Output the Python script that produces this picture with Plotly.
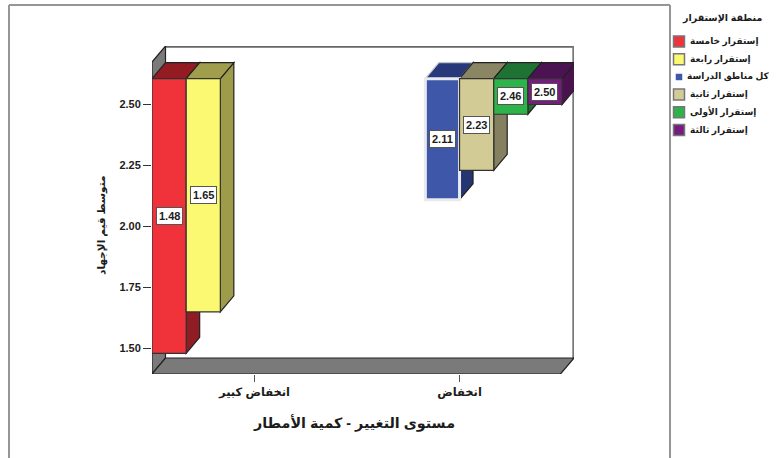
import plotly.graph_objects as go

# ---- data ----
categories = ["انخفاض كبير", "انخفاض"]
series_names = ["إستقرار خامسة", "إستقرار رابعة", "كل مناطق الدراسة",
                "إستقرار ثانية", "إستقرار الأولى", "إستقرار ثالثة"]
series_category = [0, 0, 1, 1, 1, 1]
series_slot = [0, 1, 2, 3, 4, 5]
mean_values = [1.48, 1.65, 2.11, 2.23, 2.46, 2.50]
y_ticks = [1.50, 1.75, 2.00, 2.25, 2.50]
front_colors = ["#F0333B", "#FBF871", "#3F57A8", "#D2CB95", "#2DB34A", "#751C7E"]
side_colors = ["#8F1D23", "#9E9B4A", "#243571", "#85805F", "#1C7030", "#4A124F"]
top_colors = ["#931C22", "#A09D4C", "#27397A", "#8A8562", "#1E7334", "#4C1352"]
edge_colors = ["#333333", "#333333", "#E8EAF0", "#333333", "#333333", "#333333"]
x_title = "مستوى التغيير - كمية الأمطار"
y_title = "متوسط قيم الإجهاد"
legend_title = "منطقة الإستقرار"

# ---- layout geometry ----
W, H = 777, 458
LEFT, RIGHT, TOP, BOTTOM = 152, 574, 46, 374
SLOT_PX = 34.17
PX_PER_UNIT = 244.0
Y_AT_150 = 348.5
BAR_BASE = 2.606
DX = 13.5 / SLOT_PX
DY = 16.0 / PX_PER_UNIT
SLOTS_PER_GROUP = 6

x_range = [0, (RIGHT - LEFT) / SLOT_PX]
y_range = [1.5 - (BOTTOM - Y_AT_150) / PX_PER_UNIT, 1.5 + (Y_AT_150 - TOP) / PX_PER_UNIT]
FONT = "Liberation Sans, DejaVu Sans, sans-serif"
TEXT = "#1c1c1c"


def px(xp):
    return (xp - LEFT) / (RIGHT - LEFT)


def py(yp):
    return 1 - (yp - TOP) / (BOTTOM - TOP)


def poly(points, fill, line="#222222", width=1.2):
    path = "M " + " L ".join(f"{a},{b}" for a, b in points) + " Z"
    return dict(type="path", path=path, xref="x", yref="y", layer="below",
                fillcolor=fill, line=dict(color=line, width=width))


def frame_line(xa, ya, xb, yb):
    return dict(type="line", xref="paper", yref="paper", x0=px(xa), x1=px(xb), y0=py(ya), y1=py(yb),
                line=dict(color="#969696", width=2), layer="below")


x0, x1 = x_range
y0, y1 = y_range
shapes = [
    # outer frame
    frame_line(9, H, 9, 5),
    frame_line(9, 5, 670, 5),
    frame_line(670, 5, 670, H),
    # back wall edges
    dict(type="line", xref="x", yref="y", x0=DX, x1=x1, y0=y1 - 0.003, y1=y1 - 0.003,
         line=dict(color="#666666", width=2), layer="below"),
    dict(type="line", xref="x", yref="y", x0=x1 - 0.02, x1=x1 - 0.02, y0=y0 + DY, y1=y1,
         line=dict(color="#777777", width=2), layer="below"),
    # left wall and floor
    poly([(0, y0), (DX, y0 + DY), (DX, y1), (0, y1 - DY)], "#7A7A7A"),
    poly([(0, y0), (DX, y0 + DY), (x1, y0 + DY), (x1 - DX, y0)], "#7A7A7A"),
]

annotations = []
fig = go.Figure()

for i, name in enumerate(series_names):
    v = mean_values[i]
    left = series_category[i] * SLOTS_PER_GROUP + series_slot[i]
    right = left + 1
    # side and top faces of the extruded bar
    shapes.append(poly([(right, BAR_BASE), (right + DX, BAR_BASE + DY),
                        (right + DX, v + DY), (right, v)], side_colors[i]))
    shapes.append(poly([(left, BAR_BASE), (right, BAR_BASE),
                        (right + DX, BAR_BASE + DY), (left + DX, BAR_BASE + DY)], top_colors[i],
                       line="#BFC3CC" if i == 2 else "#222222"))
    # front face
    fig.add_trace(go.Bar(
        x=[left + 0.5], y=[BAR_BASE - v], base=[v], width=[1], name=name, showlegend=False,
        marker=dict(color=front_colors[i],
                    line=dict(color=edge_colors[i], width=3 if i == 2 else 1.2)),
    ))
    annotations.append(dict(
        x=left + 0.5, y=(v + BAR_BASE) / 2, xref="x", yref="y", text=f"<b>{v:.2f}</b>",
        xanchor="center", yanchor="middle",
        showarrow=False, bgcolor="#FFFFFF", bordercolor="#555555", borderwidth=1, borderpad=2,
        font=dict(family=FONT, size=11, color=TEXT),
    ))

# legend
LEG_TOP, LEG_STEP = 41.5, 17.7
annotations.append(dict(
    x=px(722), y=py(18), xref="paper", yref="paper", text=f"<b>{legend_title}</b>", showarrow=False,
    xanchor="center", yanchor="middle",
    font=dict(family=FONT, size=9.5, color=TEXT),
))
for i, name in enumerate(series_names):
    yc = LEG_TOP + i * LEG_STEP
    half = 4 if i == 2 else 5.5
    shapes.append(dict(
        type="rect", xref="paper", yref="paper",
        x0=px(679 - half), x1=px(679 + half), y0=py(yc - half), y1=py(yc + half),
        fillcolor=front_colors[i], layer="below",
        line=dict(color="#FFFFFF" if i == 2 else "#777777", width=1.5),
    ))
    annotations.append(dict(
        x=px(688 if i != 2 else 685), y=py(yc), xref="paper", yref="paper",
        xanchor="left", yanchor="middle",
        text=f"<b>{name}</b>", showarrow=False,
        font=dict(family=FONT, size=9, color=TEXT),
    ))

# axis titles
annotations.append(dict(
    x=px(354), y=py(423), xref="paper", yref="paper", text=f"<b>{x_title}</b>", showarrow=False,
    xanchor="center", yanchor="middle",
    font=dict(family=FONT, size=14.3, color=TEXT),
))
annotations.append(dict(
    x=px(101), y=py(226), xref="paper", yref="paper", text=f"<b>{y_title}</b>", showarrow=False,
    xanchor="center", yanchor="middle",
    textangle=-90, font=dict(family=FONT, size=10.5, color=TEXT),
))

fig.update_layout(
    width=W, height=H, autosize=False,
    margin=dict(l=LEFT, r=W - RIGHT, t=TOP, b=H - BOTTOM, pad=0),
    paper_bgcolor="#FFFFFF", plot_bgcolor="#FFFFFF",
    showlegend=False, barmode="overlay",
    shapes=shapes, annotations=annotations,
    xaxis=dict(
        range=x_range, showgrid=False, zeroline=False, showline=False,
        tickmode="array",
        tickvals=[(c + 0.5) * SLOTS_PER_GROUP for c in range(len(categories))],
        ticktext=[f"<b>{c}</b>" for c in categories],
        ticks="outside", ticklen=7, tickwidth=1, tickcolor="#555555",
        tickfont=dict(family=FONT, size=11.5, color=TEXT),
    ),
    yaxis=dict(
        range=y_range, showgrid=False, zeroline=False, showline=False,
        tickmode="array", tickvals=y_ticks,
        ticktext=[f"<b>{t:.2f}</b>" for t in y_ticks],
        ticks="outside", ticklen=8, tickwidth=1, tickcolor="#333333",
        tickfont=dict(family=FONT, size=11, color=TEXT),
    ),
)

fig.write_html("out.html", config={"displayModeBar": False},
               post_script="document.body.style.margin='0';")
